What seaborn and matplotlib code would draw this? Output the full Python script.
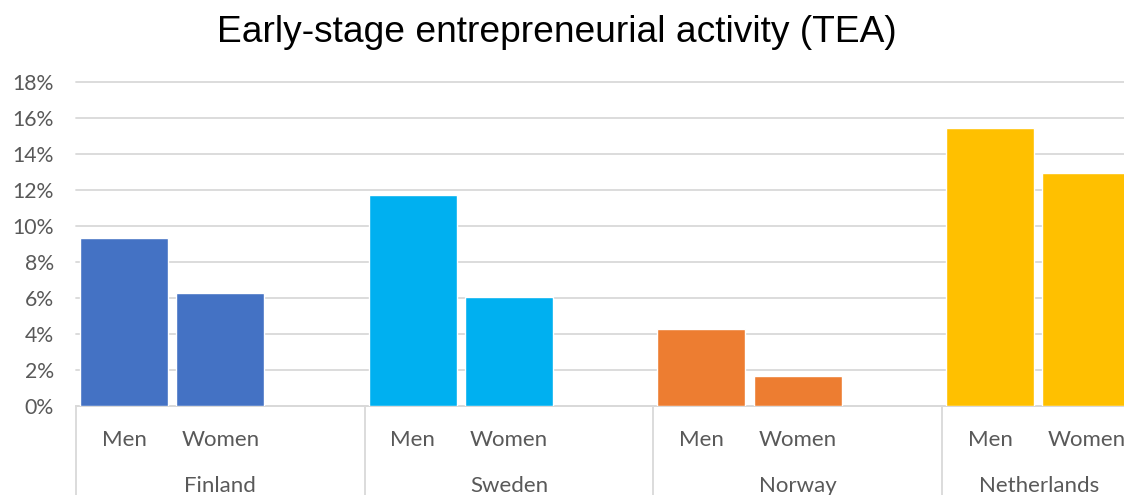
import matplotlib
matplotlib.use("Agg")
import matplotlib.pyplot as plt
import seaborn as sns
import pandas as pd
from matplotlib.ticker import PercentFormatter
from matplotlib.transforms import offset_copy

# Early-stage entrepreneurial activity by country and gender
countries = ["Finland", "Sweden", "Norway", "Netherlands"]
genders = ["Men", "Women"]
men_tea = [0.0933, 0.1172, 0.0428, 0.1544]
women_tea = [0.0628, 0.0603, 0.0167, 0.1294]
country_colors = ["#4472C4", "#00B0F0", "#ED7D31", "#FFC000"]
y_ticks = [0.00, 0.02, 0.04, 0.06, 0.08, 0.10, 0.12, 0.14, 0.16, 0.18]

# Each country occupies three category slots: Men, Women and an empty one
SLOTS = 3
rows = []
for i, c in enumerate(countries):
    for j, (g, v) in enumerate(zip(genders, [men_tea[i], women_tea[i]])):
        rows.append({"country": c, "gender": g, "pos": i * SLOTS + j, "tea": v})
df = pd.DataFrame(rows)

sns.set_theme(style="white")
plt.rcParams["font.family"] = ["Lato", "DejaVu Sans"]

W, H, DPI = 1124, 495, 100
fig = plt.figure(figsize=(W / DPI, H / DPI), dpi=DPI)
left_px, top_px, bottom_px = 76, 82, 406
ax = fig.add_axes([left_px / W, (H - bottom_px) / H, (W - left_px) / W, (bottom_px - top_px) / H])

sns.barplot(data=df, x="pos", y="tea", hue="country", hue_order=countries,
            palette=country_colors, native_scale=True, dodge=False,
            width=0.915, legend=False, errorbar=None, ax=ax, zorder=3,
            saturation=1)

slot_px = (942 - 76) / 3 / SLOTS
ax.set_xlim(-0.5, -0.5 + (W - left_px) / slot_px)
ax.set_ylim(0, 0.18)
ax.set_yticks(y_ticks)
ax.yaxis.set_major_formatter(PercentFormatter(1.0, decimals=0))
ax.grid(axis="y", color="#D9D9D9", linewidth=1.3, zorder=0)
ax.grid(axis="x", visible=False)
for gl in ax.get_ygridlines():
    gl.set_clip_on(False)
for s in ["top", "right", "left"]:
    ax.spines[s].set_visible(False)
ax.spines["bottom"].set_color("#D9D9D9")
ax.spines["bottom"].set_linewidth(1.3)
ax.tick_params(axis="y", length=0, pad=16, labelsize=15.3, labelcolor="#595959")

ax.set_xticks(df["pos"].tolist())
ax.set_xticklabels(df["gender"].tolist())
ax.tick_params(axis="x", length=0, pad=17, labelsize=16, labelcolor="#595959")
ax.set_xlabel("")
ax.set_ylabel("")

# Country labels and group separators beneath the axis
xform = ax.get_xaxis_transform()
renderer = fig.canvas.get_renderer()
edge_margin = 25  # px kept free at the right edge of the figure
for i, c in enumerate(countries):
    t = ax.text(i * SLOTS + 1, -0.247, c, transform=xform, ha="center", va="center",
                fontsize=16, color="#595959")
    bb = t.get_window_extent(renderer)
    overflow = bb.x1 - (W - edge_margin)
    if overflow > 0:
        t.set_transform(offset_copy(xform, fig=fig, x=-overflow, y=0, units="dots"))
    ax.plot([i * SLOTS - 0.5] * 2, [0, -0.4], transform=xform, color="#D9D9D9",
            linewidth=1.3, clip_on=False)

fig.text(557 / W, 1 - 33 / H, "Early-stage entrepreneurial activity (TEA)",
         ha="center", va="center", fontsize=26.7, color="black",
         family=["Liberation Sans", "DejaVu Sans"])

fig.savefig("out.png", dpi=DPI)
